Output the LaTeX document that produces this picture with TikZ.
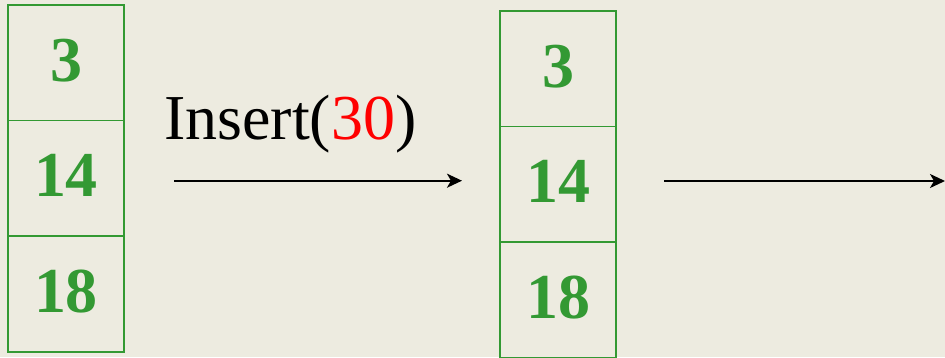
\documentclass[tikz,border=0pt]{standalone}
\usepackage{fontspec}
\setmainfont{Liberation Serif}
\usepackage{xcolor}
\usetikzlibrary{positioning, arrows.meta}

\definecolor{bgpaper}{RGB}{237,235,224}
\definecolor{cellgreen}{RGB}{51,153,51}

\begin{document}
\begin{tikzpicture}[x=1pt, y=1pt,
    cell/.style={draw=cellgreen, line width=1.5pt, minimum width=116pt, minimum height=115.6pt,
      inner sep=0pt, outer sep=0pt, text depth=5.4pt, text=cellgreen, font=\fontsize{64}{64}\selectfont\bfseries},
    move/.style={-{Stealth[length=15pt, width=14pt, inset=4pt]}, line width=2pt}]
      % Background
      \fill[bgpaper] (0, 0) rectangle (945, 357);
      \useasboundingbox (0, 0) rectangle (945, 357);

      % Nodes
      \node[cell] (a1) at (66, 294.2) {3};
      \node[cell, below=0pt of a1] (a2) {14};
      \node[cell, below=0pt of a2] (a3) {18};

      \node[cell] (b1) at (558, 288.2) {3};
      \node[cell, below=0pt of b1] (b2) {14};
      \node[cell, below=0pt of b2] (b3) {18};

      \coordinate (next) at (945, 176);

      % Edges
      \draw[move] ([xshift=50pt]a2.east |- 0, 176.3) coordinate (s1) -- ([xshift=-38pt]b2.west |- 0, 176.3) coordinate (e1);
      \draw[move] ([xshift=48pt]b2.east |- next) -- (next);

      % Operation label
      \node[anchor=base west, inner sep=0pt, font=\fontsize{64}{64}\selectfont] (op) at (164, 217.5) {Insert(\textcolor{red}{30})};
\end{tikzpicture}
\end{document}
